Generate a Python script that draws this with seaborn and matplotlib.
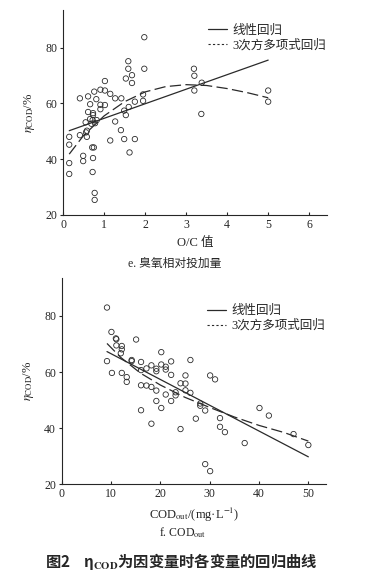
import seaborn as sns
from matplotlib import pyplot as plt

# e. O/C ratio vs eta_COD
oc_x = [0.15, 0.15, 0.15, 0.15, 0.41, 0.41, 0.49, 0.49, 0.61, 0.66, 0.61, 0.55,
        0.58, 0.56, 0.58, 0.76, 0.81, 0.73, 0.73, 0.66, 0.69, 0.78, 0.82, 0.72,
        0.71, 0.75, 0.73, 0.72, 0.77, 0.77, 0.91, 1.02, 1.02, 0.91, 0.91, 1.02,
        1.15, 1.27, 1.42, 1.27, 1.15, 1.41, 1.49, 1.49, 1.53, 1.53, 1.59, 1.59,
        1.68, 1.68, 1.60, 1.62, 1.75, 1.75, 1.98, 1.98, 1.95, 1.95, 3.19, 3.20,
        3.20, 3.38, 3.37, 5.00, 5.00]
oc_y = [48.0, 45.2, 38.6, 34.7, 61.8, 48.6, 41.2, 39.3, 62.5, 59.7, 56.9, 53.2,
        50.2, 49.6, 48.0, 64.2, 61.5, 56.5, 55.8, 54.4, 52.7, 52.9, 54.0, 54.0,
        44.2, 44.2, 40.4, 35.4, 27.9, 25.4, 64.9, 68.0, 64.6, 59.5, 57.9, 59.4,
        63.4, 61.8, 61.8, 53.5, 46.7, 50.4, 47.2, 57.4, 55.8, 68.9, 75.1, 72.4,
        70.1, 67.3, 58.7, 42.4, 60.6, 47.2, 83.7, 72.4, 63.2, 60.9, 72.4, 69.9,
        64.6, 67.4, 56.2, 64.6, 60.6]
oc_lin_x = [0.15, 5.0]
oc_lin_y = [50.2, 75.5]
oc_cub_x = [0.15, 0.5, 1.0, 1.5, 2.0, 2.5, 3.0, 3.5, 4.0, 4.5, 5.0]
oc_cub_y = [41.8, 48.5, 55.5, 60.6, 64.1, 66.0, 66.7, 66.4, 65.3, 63.8, 62.0]

# f. COD_out vs eta_COD
cod_x = [9.2, 10.1, 11.1, 11.1, 12.2, 12.2, 12.0, 9.2, 10.2, 12.2, 13.2, 13.2,
         14.2, 15.1, 16.1, 16.1, 16.1, 16.1, 17.2, 17.2, 18.2, 18.2, 18.2, 19.2,
         19.2, 19.2, 19.2, 20.2, 20.2, 20.2, 21.1, 21.1, 21.1, 22.2, 22.2, 22.2,
         23.1, 23.1, 24.1, 24.1, 25.1, 25.1, 25.1, 26.1, 26.1, 27.2, 28.1, 28.1,
         29.1, 29.1, 30.1, 30.1, 31.1, 32.1, 32.1, 33.1, 37.1, 40.1, 42.0, 47.0,
         50.0, 11.0, 14.2]
cod_y = [83.0, 74.3, 71.7, 69.5, 69.3, 68.1, 66.7, 63.9, 59.7, 59.7, 58.2, 56.5,
         63.9, 71.6, 63.6, 60.7, 55.3, 46.4, 61.3, 55.2, 62.4, 54.7, 41.6, 61.2,
         60.3, 53.4, 49.7, 67.1, 62.7, 47.2, 61.9, 60.9, 52.0, 63.8, 59.0, 49.7,
         52.8, 51.7, 56.0, 39.7, 58.8, 55.9, 53.5, 64.3, 52.6, 43.4, 48.8, 48.0,
         46.3, 27.2, 58.8, 24.7, 57.4, 43.6, 40.5, 38.6, 34.7, 47.2, 44.5, 37.9,
         34.0, 72.0, 64.3]
cod_lin_x = [9.2, 50.0]
cod_lin_y = [67.3, 29.8]
cod_cub_x = [9.2, 12.0, 16.0, 20.0, 25.0, 30.0, 35.0, 40.0, 45.0, 50.0]
cod_cub_y = [70.2, 65.2, 59.6, 55.4, 51.0, 47.4, 44.0, 41.0, 38.5, 35.4]

sns.set_style("ticks")
plt.rcParams['font.family'] = ['Liberation Serif', 'Noto Sans CJK SC']
plt.rcParams['mathtext.fontset'] = 'stix'
plt.rcParams['axes.linewidth'] = 0.8

ink = "#2a2a2a"
fig = plt.figure(figsize=(3.71, 5.81), dpi=100)
ax1 = fig.add_axes([0.170, 0.630, 0.711, 0.353])
ax2 = fig.add_axes([0.166, 0.1664, 0.713, 0.355])


def draw_panel(ax, x, y, lx, ly, cx, cy, xlim, xticks, legend_y):
    sns.scatterplot(x=x, y=y, ax=ax, s=15, facecolor='none', edgecolor=ink,
                    linewidth=0.6, marker='o')
    sns.lineplot(x=lx, y=ly, ax=ax, color=ink, lw=0.9, label="线性回归")
    sns.lineplot(x=cx, y=cy, ax=ax, color=ink, lw=0.9,
                 linestyle=(0, (9, 3.5)), label="3次方多项式回归")
    ax.set(xlim=xlim, ylim=(20, 93.5), xticks=xticks, yticks=[20, 40, 60, 80])
    sns.despine(ax=ax)
    ax.tick_params(axis='x', direction='in', length=2, labelsize=8.5, pad=3)
    ax.tick_params(axis='y', direction='out', length=2, labelsize=8.5, pad=2)
    ax.set_ylabel(r"$\eta_{\mathrm{COD}}$/%", fontsize=9, labelpad=6)
    leg = ax.legend(loc='upper left', bbox_to_anchor=(0.53, legend_y),
                    frameon=False, fontsize=9, handlelength=1.5,
                    handletextpad=0.45, labelspacing=0.2, borderaxespad=0)
    lines = leg.get_lines()
    lines[0].set_linewidth(0.9)
    lines[1].set_linewidth(0.8)
    lines[1].set_linestyle((0, (2, 2)))


draw_panel(ax1, oc_x, oc_y, oc_lin_x, oc_lin_y, oc_cub_x, oc_cub_y,
           (0, 6.43), [0, 1, 2, 3, 4, 5, 6], 0.955)
draw_panel(ax2, cod_x, cod_y, cod_lin_x, cod_lin_y, cod_cub_x, cod_cub_y,
           (0, 53.6), [0, 10, 20, 30, 40, 50], 0.895)

ax1.set_xlabel("O/C 值", fontsize=9, labelpad=4)
ax2.set_xlabel(r"COD$_{\mathrm{out}}$/(mg·L$^{-1}$)", fontsize=9, labelpad=4)

fig.text(0.472, 1 - 264 / 581, "e. 臭氧相对投加量", ha='center', va='center',
         fontsize=8.5)
fig.text(0.493, 1 - 533 / 581, r"f. COD$_{\mathrm{out}}$", ha='center',
         va='center', fontsize=8.5)
fig.text(0.49, 1 - 562 / 581, "图2    η$_{\\mathbf{COD}}$为因变量时各变量的回归曲线",
         ha='center', va='center', fontsize=11, fontweight='bold',
         family=['Noto Sans CJK SC', 'DejaVu Sans'])

fig.savefig("out.png", dpi=100)
